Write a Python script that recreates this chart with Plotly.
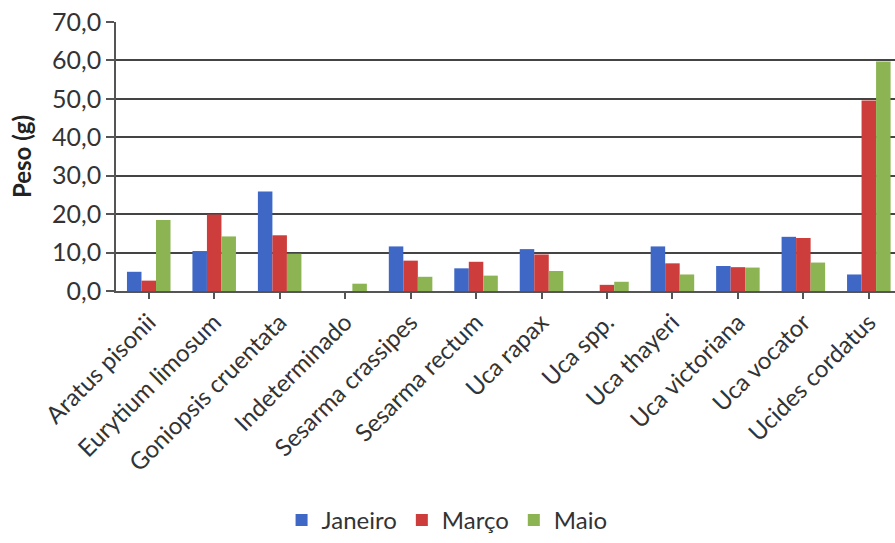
import plotly.graph_objects as go

especies = [
    "Aratus pisonii", "Eurytium limosum", "Goniopsis cruentata", "Indeterminado",
    "Sesarma crassipes", "Sesarma rectum", "Uca rapax", "Uca spp.",
    "Uca thayeri", "Uca victoriana", "Uca vocator", "Ucides cordatus",
]
janeiro = [5.0, 10.4, 25.9, 0.0, 11.6, 5.9, 10.9, 0.0, 11.6, 6.5, 14.1, 4.3]
marco = [2.7, 19.9, 14.5, 0.0, 7.9, 7.6, 9.5, 1.6, 7.2, 6.2, 13.8, 49.6]
maio = [18.5, 14.2, 9.7, 1.9, 3.7, 4.0, 5.2, 2.4, 4.3, 6.1, 7.4, 59.7]

series = [
    ("Janeiro", janeiro, "#3E67C6"),
    ("Março", marco, "#CC3D3B"),
    ("Maio", maio, "#8CB452"),
]

fig = go.Figure()
for nome, valores, cor in series:
    fig.add_trace(go.Bar(
        x=list(range(len(especies))), y=valores, name=nome,
        marker=dict(color=cor, line=dict(width=0)),
    ))

font = "Lato, 'Open Sans', sans-serif"
fig.update_layout(
    width=895, height=543,
    margin=dict(l=116, r=0, t=22, b=250),
    paper_bgcolor="white", plot_bgcolor="white",
    barmode="group", bargap=0.335, bargroupgap=0,
    separators=",.",
    font=dict(family=font, size=22, color="#333333"),
    showlegend=True,
    legend=dict(
        orientation="h", x=0.425, xanchor="center", y=-0.856, yanchor="middle",
        font=dict(size=24, color="#333333"), itemwidth=30, traceorder="normal",
    ),
    xaxis=dict(
        tickmode="array", tickvals=list(range(len(especies))), ticktext=especies,
        range=[-0.5, 11.4], tickangle=-45,
        showline=True, linecolor="#555555", linewidth=1.5,
        ticks="outside", ticklen=6, tickcolor="#555555", tickwidth=1.5,
        showgrid=False, zeroline=False,
        tickfont=dict(size=24, color="#333333"),
    ),
    yaxis=dict(
        range=[0, 70], dtick=10, tickformat=".1f",
        showline=True, linecolor="#555555", linewidth=1.5,
        ticks="outside", ticklen=8, tickcolor="#555555", tickwidth=1.5,
        showgrid=True, gridcolor="#444444", gridwidth=1.5,
        zeroline=False,
        tickfont=dict(size=25, color="#333333"),
        title=dict(text="<b>Peso (g)</b>", font=dict(size=24, color="#222222"), standoff=14),
    ),
)
# tick marks between categories on the category axis
fig.update_xaxes(tickson="boundaries")

fig.write_html("out.html")
